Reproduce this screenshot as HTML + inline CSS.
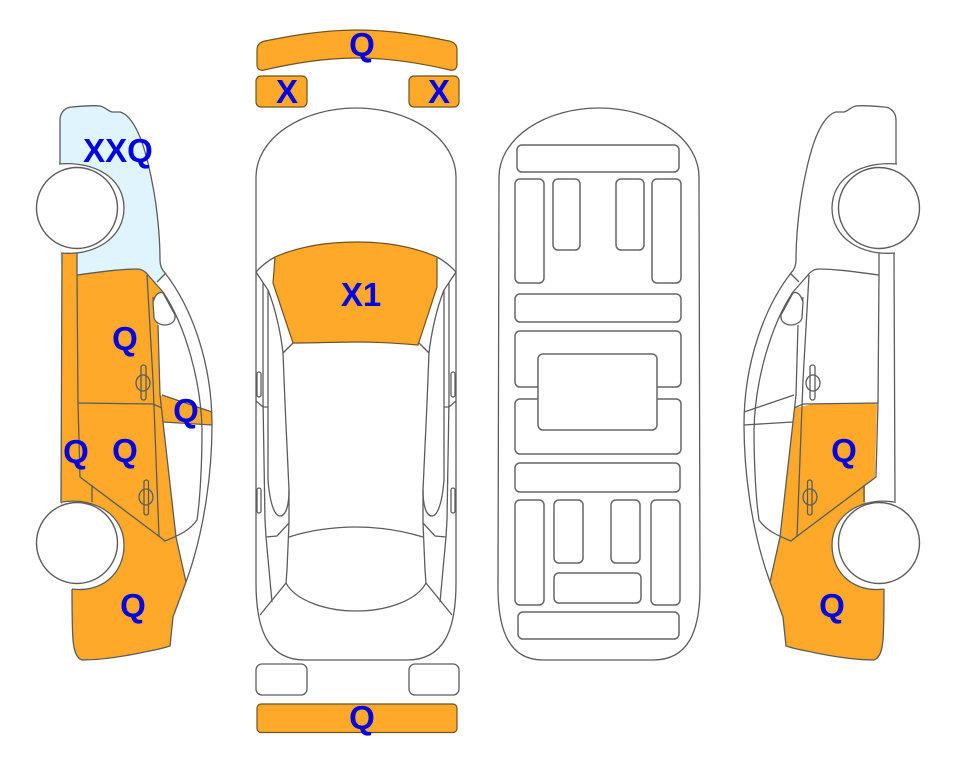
<!DOCTYPE html>
<html><head><meta charset="utf-8"><style>
html,body{margin:0;padding:0;background:#fff}
svg{display:block}
text{font-family:"Liberation Sans",sans-serif;font-weight:bold;font-size:33px;fill:#0000e0;text-anchor:middle}
.l{fill:none;stroke:#5c5c5c;stroke-width:1.3}
.r rect{fill:none;stroke:#666;stroke-width:1.5}
.o{fill:#ffa92b;stroke:#6e5320;stroke-width:1.2}
.f{fill:#ffa92b;stroke:none}
</style></head><body>
<svg width="963" height="768" viewBox="0 0 963 768" xmlns="http://www.w3.org/2000/svg">
<defs>
<g id="side">
<path class="l" d="M60,165 L60,120 C60,112 66,107 72,107 C82,106 92,105 100,106 C105,107 108,111 112,112 L120,112 C128,114 135,125 140,137 C144,147 146,155 148,163 C152,180 155,195 157,213 C159,230 160,245 160,260 C160,265 162,270 165,273"/>
<path class="l" d="M165,273 C190,305 212,360 212,425 C212,470 205,530 186,582 L173,617 L170,646 C158,650 148,651 140,653 C120,657 100,660 82,660 C76,658 74,650 73,640 C72,625 72,605 72,589"/>
<path class="l" d="M157,282 L166,273"/>
<path class="l" d="M163,292 C185,325 201,380 202,430 C202,465 200,500 197,520 C190,530 180,535 165,541 L160,537 L80,477 L78,403 L77,275"/>
<path class="l" d="M77,275 C100,272 120,269 137,269 C142,269 146,272 148,275 L163,292"/>
<path class="l" d="M147,275 L153,380 L159,537"/>
<path class="l" d="M78,403 L153,404 L162,408"/>
<path class="l" d="M92,485 L92,502"/>
<path class="l" d="M62,253 L61,503 M77,253 L77,275"/>
<path class="l" d="M153,297 L155,317 M158,325 L160,395 L163,422 L176,537 L186,582"/>
<path class="l" d="M162,395 L212,412 M163,422 L212,425"/>
<rect class="l" x="141" y="365" width="5" height="35" rx="2.5"/>
<ellipse class="l" cx="143" cy="383" rx="7" ry="8"/>
<rect class="l" x="144" y="480" width="4.5" height="35" rx="2.2"/>
<ellipse class="l" cx="146" cy="497" rx="7" ry="8"/>
</g>
<g id="arches">
<path d="M155,297 C158,292 161,292 163,293 L175,315 C176,322 170,325 165,325 C160,325 155,322 154,318 L153,302 Z" fill="#fff" stroke="#5c5c5c" stroke-width="1.3"/>
<path d="M59,164 C95,161 124,178 124,208 C124,238 95,256 61,253" fill="#fff" stroke="#5c5c5c" stroke-width="1.3"/>
<path d="M62,502 C95,497 124,515 124,545 C124,575 100,593 72,589" fill="#fff" stroke="#5c5c5c" stroke-width="1.3"/>
<circle cx="77" cy="208" r="40.5" fill="#fff" stroke="#5c5c5c" stroke-width="1.4"/>
<circle cx="77" cy="543" r="40.5" fill="#fff" stroke="#5c5c5c" stroke-width="1.4"/>
</g>
<g id="half">
<path class="l" d="M256,272 Q264,263 275,257"/>
<path class="l" d="M256,272 L268,290 C276,310 281,335 283,353 L285,403 L289,490 L289,523 L287,570 L286,583 L260,615"/>
<path class="l" d="M283,353 L293,343"/>
<path class="l" d="M263,283 L263,400 L265,520 L266,537 L272,602"/>
<path class="l" d="M268,290 L268,480 C270,505 275,516 280,516 C286,516 289,505 289,490"/>
<rect class="l" x="257" y="372" width="4" height="25" rx="2"/>
<rect class="l" x="257" y="488" width="4" height="25" rx="2"/>
<path class="l" d="M256,401 L263,407 L268,407"/>
<path class="l" d="M289,523 L277,536 L266,537"/>
</g>
</defs>

<!-- left car -->
<path d="M60,165 L60,120 C60,112 66,107 72,107 C82,106 92,105 100,106 C105,107 108,111 112,112 L120,112 C128,114 135,125 140,137 C144,147 146,155 148,163 C152,180 155,195 157,213 C159,230 160,245 160,260 C160,265 162,270 165,273 L157,283 L148,290 L70,290 L60,260 Z" fill="#dff4fd"/>
<path class="f" d="M62,250 L77,250 L77,275 C100,272 120,269 137,269 C142,269 146,272 148,275 L163,292 L158,325 L160,395 L212,412 L212,425 L163,422 L176,537 L186,582 L173,617 L170,646 C158,650 148,651 140,653 C120,657 100,660 82,660 C76,658 74,650 73,640 L72,587 L61,503 Z"/>
<use href="#side"/>
<use href="#arches"/>

<!-- right car -->
<g transform="translate(956,0) scale(-1,1)">
<path class="f" d="M79,403 L143,404 L161,408 L163,422 L176,537 L186,582 L173,617 L170,646 C158,650 148,651 140,653 C120,657 100,660 82,660 C76,658 74,650 73,640 L72,587 L91,500 L91,486 L81,477 Z"/>
<use href="#side"/>
<use href="#arches"/>
</g>

<!-- top view -->
<path class="o" d="M257,50 C257,45 260,42 265,41 C295,35 325,30 357,30 C390,30 420,35 449,41 C454,42 457,45 457,50 L457,64 C457,69 454,71 450,70 C420,63 390,58 357,58 C325,58 295,63 264,70 C260,71 257,69 257,65 Z"/>
<rect class="o" x="256" y="76" width="51" height="31" rx="5"/>
<rect class="o" x="409" y="76" width="50" height="31" rx="5"/>
<path class="l" d="M256,177 A100,69 0 0 1 456,177 L456,583 C456,630 444,660 407,660 L305,660 C268,660 256,630 256,583 Z"/>
<path class="o" d="M275,257 C300,246 330,242 357,242 C385,242 412,246 437,257 L437,287 L418,345 C395,343 375,342 357,342 C335,342 315,343 293,343 L273,283 Z"/>
<use href="#half"/>
<use href="#half" transform="translate(712,0) scale(-1,1)"/>
<path class="l" d="M289,537 C310,530 335,527 356,527 C378,527 400,530 423,537"/>
<path class="l" d="M286,583 C295,600 325,611 356,611 C388,611 417,600 426,583"/>
<rect class="l" x="256" y="664" width="51" height="31" rx="6"/>
<rect class="l" x="409" y="664" width="50" height="31" rx="6"/>
<rect class="o" x="257" y="704" width="200" height="28.5" rx="4"/>

<!-- underbody -->
<path class="l" d="M499,177 A100,69 0 0 1 699,177 L700,587 C700,632 688,660 653,660 L543,660 C510,660 498,632 498,587 Z"/>
<g class="r">
<rect x="517" y="145" width="162" height="27" rx="5"/>
<rect x="515" y="179" width="29" height="104" rx="5"/>
<rect x="553" y="179" width="27" height="71" rx="5"/>
<rect x="616" y="179" width="28" height="71" rx="5"/>
<rect x="652" y="179" width="29" height="104" rx="5"/>
<rect x="515" y="294" width="166" height="28" rx="5"/>
<rect x="515" y="331" width="166" height="56" rx="5"/>
<rect x="515" y="399" width="166" height="55" rx="5"/>
<rect x="538" y="354" width="119" height="76" rx="5" style="fill:#fff"/>
<rect x="515" y="463" width="165" height="29" rx="5"/>
<rect x="515" y="500" width="29" height="105" rx="5"/>
<rect x="554" y="500" width="29" height="63" rx="5"/>
<rect x="611" y="500" width="29" height="63" rx="5"/>
<rect x="651" y="500" width="29" height="105" rx="5"/>
<rect x="554" y="573" width="87" height="30" rx="5"/>
<rect x="518" y="612" width="161" height="27" rx="5"/>
</g>

<!-- labels -->
<text x="118" y="162">XXQ</text>
<text x="125" y="350">Q</text>
<text x="186" y="422">Q</text>
<text x="76" y="463">Q</text>
<text x="125" y="462">Q</text>
<text x="133" y="617">Q</text>
<text x="362" y="56">Q</text>
<text x="287" y="103">X</text>
<text x="439" y="103">X</text>
<text x="361" y="306">X1</text>
<text x="362" y="729">Q</text>
<text x="844" y="462">Q</text>
<text x="832" y="617">Q</text>
</svg>
</body></html>
